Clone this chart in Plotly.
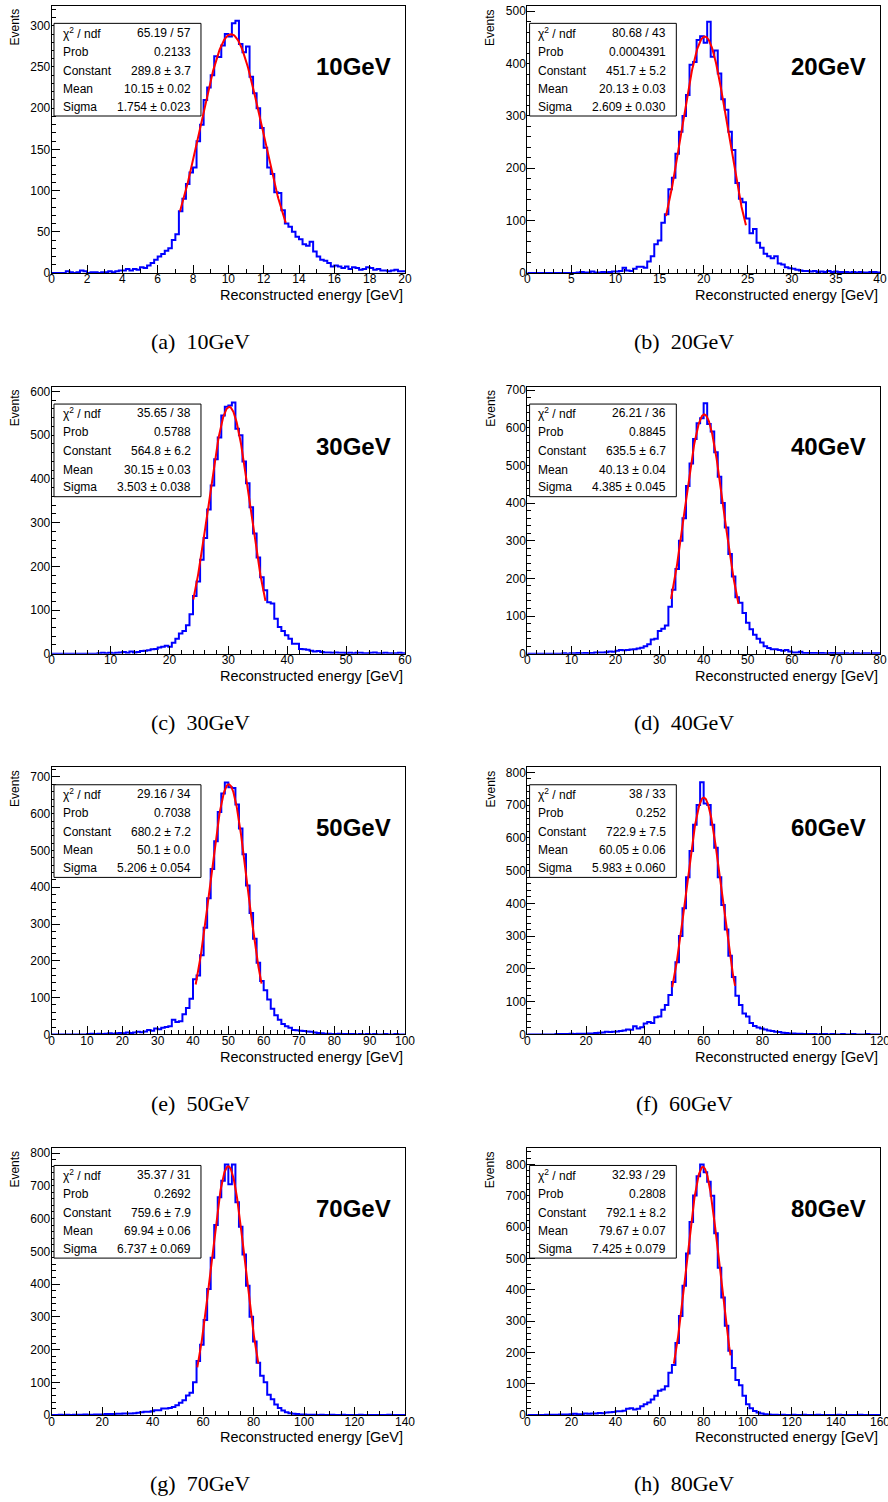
import numpy as np
import plotly.graph_objects as go

# ---------------- data ----------------
beam_energy = ["10GeV", "20GeV", "30GeV", "40GeV", "50GeV", "60GeV", "70GeV", "80GeV"]
panel_tags = ["(a)", "(b)", "(c)", "(d)", "(e)", "(f)", "(g)", "(h)"]
x_max = [20, 40, 60, 80, 100, 120, 140, 160]
y_max = [324, 510, 611, 709, 726, 815, 815, 852]
x_dtick = [2, 5, 10, 10, 10, 20, 20, 20]
x_minor = [1, 1, 2, 2, 2, 5, 5, 5]
y_dtick = [50, 100, 100, 100, 100, 100, 100, 100]
y_minor = [10, 20, 20, 20, 20, 20, 20, 20]

# histogram contents (100 equal-width bins over [0, x_max])
a_counts = [0,0,0,0,2,1,0,1,3,2, 0,1,1,0,1,1,2,1,2,3,
            3,5,3,5,4,7,6,9,12,16, 20,23,27,30,40,47,75,90,108,122,
            128,160,180,210,225,240,263,262,276,290, 287,303,306,278,268,275,238,218,200,176,
            152,128,120,98,97,76,60,56,50,44, 41,35,33,38,26,20,16,15,12,8,
            9,8,6,8,5,7,6,4,5,7, 6,4,5,3,3,2,3,4,2,2]
b_counts = [0,0,0,0,0,0,0,0,0,0, 0,0,0,0,1,2,1,1,3,1,
            1,2,1,2,3,3,4,10,5,4, 8,12,12,10,22,32,55,62,96,112,
            160,182,228,270,300,340,398,403,445,452, 440,480,413,425,381,332,312,270,235,172,
            142,135,104,76,84,58,48,37,32,28, 32,18,16,11,9,8,6,5,4,4,
            3,4,2,3,2,4,2,3,2,2, 2,1,2,1,2,1,1,2,2,1]
c_counts = [0,0,0,0,0,0,0,0,0,0, 0,0,0,1,2,1,2,1,2,3,
            4,2,5,3,4,6,7,8,10,11, 14,16,18,16,25,34,46,52,65,90,
            132,165,215,265,330,385,445,495,545,565, 568,575,515,500,440,390,335,275,220,175,
            145,118,115,80,61,52,42,34,23,23, 11,10,9,7,5,6,4,3,3,2,
            3,2,2,1,2,1,2,2,1,1, 2,3,1,1,2,1,1,1,2,1]
d_counts = [0,0,0,0,0,0,0,0,0,0, 1,0,1,1,2,1,2,1,2,3,
            3,3,4,6,5,8,10,9,10,11, 12,14,16,20,25,38,40,60,66,75,
            125,170,225,300,360,445,505,570,612,625, 665,610,590,535,470,400,335,265,205,150,
            135,108,82,65,50,40,30,20,15,12, 12,10,8,10,6,3,3,5,2,2,
            2,2,1,2,1,1,2,1,1,1, 1,0,1,1,0,1,1,0,1,1]
e_counts = [0,0,0,0,0,0,0,0,0,0, 1,2,1,2,1,2,3,2,3,4,
            3,5,4,5,7,6,8,12,10,16, 14,18,20,22,40,34,36,55,72,97,
            150,160,215,290,370,450,525,605,655,685, 672,670,625,560,490,405,330,260,195,145,
            120,95,70,52,40,28,22,18,12,11, 10,9,8,7,5,4,3,2,2,1,
            1,2,1,1,1,1,0,1,0,1, 0,1,0,0,1,0,0,1,0,0]
f_counts = [0,0,0,0,0,0,0,0,1,1, 1,1,2,1,2,2,2,3,3,4,
            5,6,8,7,8,9,10,12,15,14, 25,18,22,33,38,35,52,55,75,90,
            120,160,220,300,385,480,560,640,700,770, 705,700,640,570,480,395,320,240,175,118,
            90,64,55,35,26,21,18,15,12,10, 8,7,5,4,3,3,2,2,1,1,
            1,1,0,1,1,0,1,0,0,1, 0,0,1,0,0,0,1,0,0,0]
g_counts = [0,0,1,0,1,0,1,1,1,2, 1,1,2,2,2,3,3,3,4,4,
            5,5,5,6,7,9,10,10,12,15, 15,20,20,22,25,30,38,45,60,68,
            100,165,215,290,385,480,580,665,715,765, 705,765,650,575,490,395,300,225,160,120,
            100,62,48,32,22,14,9,6,4,3, 2,2,1,1,1,0,1,0,0,1,
            0,0,1,0,0,0,0,1,0,0, 0,0,0,0,0,1,0,0,0,0]
h_counts = [0,0,0,0,0,1,1,1,1,2, 2,2,3,4,3,3,5,4,5,5,
            7,6,8,9,10,12,12,14,20,22, 18,20,28,35,40,50,62,78,82,92,
            135,160,230,316,413,516,616,701,762,800, 775,745,700,580,470,375,285,205,150,112,
            95,62,35,22,13,8,5,3,2,1, 1,0,1,0,0,1,0,0,1,0,
            0,0,1,0,0,0,0,0,1,0, 0,0,0,0,1,0,0,0,0,0]
all_counts = [a_counts, b_counts, c_counts, d_counts, e_counts, f_counts, g_counts, h_counts]

# Gaussian fit results (from the stat boxes) and visible fit ranges
fit_const = [289.8, 451.7, 564.8, 635.5, 680.2, 722.9, 759.6, 792.1]
fit_mean = [10.15, 20.13, 30.15, 40.13, 50.1, 60.05, 69.94, 79.67]
fit_sigma = [1.754, 2.609, 3.503, 4.385, 5.206, 5.983, 6.737, 7.425]
fit_lo = [7.26, 15.73, 24.05, 32.6, 40.75, 49.3, 57.7, 66.5]
fit_hi = [13.25, 24.8, 36.3, 47.9, 59.4, 70.7, 81.9, 92.2]

stat_chi2 = ["65.19 / 57", "80.68 / 43", "35.65 / 38", "26.21 / 36", "29.16 / 34", "38 / 33", "35.37 / 31", "32.93 / 29"]
stat_prob = ["0.2133", "0.0004391", "0.5788", "0.8845", "0.7038", "0.252", "0.2692", "0.2808"]
stat_const = ["289.8 ± 3.7", "451.7 ± 5.2", "564.8 ± 6.2", "635.5 ± 6.7", "680.2 ± 7.2", "722.9 ± 7.5", "759.6 ± 7.9", "792.1 ± 8.2"]
stat_mean = ["10.15 ± 0.02", "20.13 ± 0.03", "30.15 ± 0.03", "40.13 ± 0.04", "50.1 ± 0.0", "60.05 ± 0.06", "69.94 ± 0.06", "79.67 ± 0.07"]
stat_sigma = ["1.754 ± 0.023", "2.609 ± 0.030", "3.503 ± 0.038", "4.385 ± 0.045", "5.206 ± 0.054", "5.983 ± 0.060", "6.737 ± 0.069", "7.425 ± 0.079"]
stat_names = ["χ<sup>2</sup> / ndf", "Prob", "Constant", "Mean", "Sigma"]

# ---------------- layout ----------------
W, H = 888, 1502
col_x = [(51.7, 405.0), (527.3, 880.0)]
row_top = [6.0, 386.7, 767.4, 1148.1]
PH = 267.0
cap_x = [200.0, 684.0]
cap_y = [341.7, 722.4, 1103.1, 1483.8]

SANS = "Liberation Sans, Arial, Helvetica, sans-serif"
SERIF = "Liberation Serif, Times New Roman, serif"

fig = go.Figure()
annotations = []
shapes = []

for i in range(8):
    r, c = divmod(i, 2)
    x0, x1 = col_x[c]
    top = row_top[r]
    bot = top + PH
    n = "" if i == 0 else str(i + 1)
    xa, ya = "x" + n, "y" + n

    counts = all_counts[i]
    nb = len(counts)
    edges = np.linspace(0, x_max[i], nb + 1)
    yy = list(counts) + [counts[-1]]
    fig.add_trace(go.Scatter(x=edges, y=yy, mode="lines",
                             line=dict(color="#0000ff", width=2, shape="hv"),
                             xaxis=xa, yaxis=ya, showlegend=False, hoverinfo="skip"))

    fx = np.linspace(fit_lo[i], fit_hi[i], 200)
    fy = fit_const[i] * np.exp(-0.5 * ((fx - fit_mean[i]) / fit_sigma[i]) ** 2)
    fig.add_trace(go.Scatter(x=fx, y=fy, mode="lines",
                             line=dict(color="#ff0000", width=2),
                             xaxis=xa, yaxis=ya, showlegend=False, hoverinfo="skip"))

    common = dict(showline=True, linecolor="black", linewidth=1, mirror=True,
                  ticks="inside", ticklen=8, tickwidth=1, tickcolor="black",
                  showgrid=False, zeroline=False, automargin=False,
                  ticklabeloverflow="allow",
                  tickfont=dict(family=SANS, size=12, color="black"))
    fig.layout["xaxis" + n] = dict(domain=[x0 / W, x1 / W], anchor=ya, range=[0, x_max[i]],
                                   tick0=0, dtick=x_dtick[i], ticklabelstandoff=-5,
                                   minor=dict(dtick=x_minor[i], tick0=0, ticks="inside", ticklen=4,
                                              tickwidth=1, tickcolor="black", showgrid=False),
                                   **common)
    fig.layout["yaxis" + n] = dict(domain=[1 - bot / H, 1 - top / H], anchor=xa, range=[0, y_max[i]],
                                   tick0=0, dtick=y_dtick[i], ticklabelstandoff=-2,
                                   minor=dict(dtick=y_minor[i], tick0=0, ticks="inside", ticklen=4,
                                              tickwidth=1, tickcolor="black", showgrid=False),
                                   **common)

    xd, yd = xa + " domain", ya + " domain"
    # stat box
    shapes.append(dict(type="rect", xref=xd, yref=yd, x0=0.0065, x1=0.4225, y0=0.588, y1=0.935,
                       line=dict(color="black", width=1), fillcolor="white", layer="above"))
    vals = [stat_chi2[i], stat_prob[i], stat_const[i], stat_mean[i], stat_sigma[i]]
    rows_y = [0.900, 0.829, 0.758, 0.689, 0.623]
    for name, val, yv in zip(stat_names, vals, rows_y):
        annotations.append(dict(xref=xd, yref=yd, x=0.026, y=yv, text=name, showarrow=False,
                                xanchor="left", yanchor="middle",
                                font=dict(family=SANS, size=12, color="black")))
        annotations.append(dict(xref=xd, yref=yd, x=0.40, y=yv, text=val, showarrow=False,
                                xanchor="right", yanchor="middle",
                                font=dict(family=SANS, size=12, color="black")))
    # energy tag
    annotations.append(dict(xref=xd, yref=yd, x=0.965, y=0.775, text="<b>" + beam_energy[i] + "</b>",
                            showarrow=False, xanchor="right", yanchor="middle",
                            font=dict(family=SANS, size=24, color="black")))
    # axis titles
    annotations.append(dict(xref=xd, yref=yd, x=1.0, y=-0.0835, text="Reconstructed energy [GeV]",
                            showarrow=False, xanchor="right", yanchor="middle",
                            font=dict(family=SANS, size=14.5, color="black")))
    annotations.append(dict(xref=xd, yref=yd, x=-36.5 / (x1 - x0), y=0.997, text="Events",
                            textangle=-90, showarrow=False, xanchor="center", yanchor="top",
                            font=dict(family=SANS, size=12, color="black")))
    # caption
    annotations.append(dict(xref="paper", yref="paper", x=cap_x[c] / W, y=1 - cap_y[r] / H,
                            text=panel_tags[i] + "\u00a0 " + beam_energy[i], showarrow=False,
                            xanchor="center", yanchor="middle",
                            font=dict(family=SERIF, size=22, color="black")))

fig.update_layout(width=W, height=H, margin=dict(l=0, r=0, t=0, b=0, pad=0, autoexpand=False),
                  paper_bgcolor="white", plot_bgcolor="white",
                  annotations=annotations, shapes=shapes, showlegend=False)

page_fix = ("document.documentElement.style.margin='0';document.documentElement.style.padding='0';"
            "document.documentElement.style.overflow='hidden';"
            "document.body.style.margin='0';document.body.style.padding='0';"
            "document.body.style.overflow='hidden';")
fig.write_html("out.html", config={"displayModeBar": False}, post_script=page_fix)
